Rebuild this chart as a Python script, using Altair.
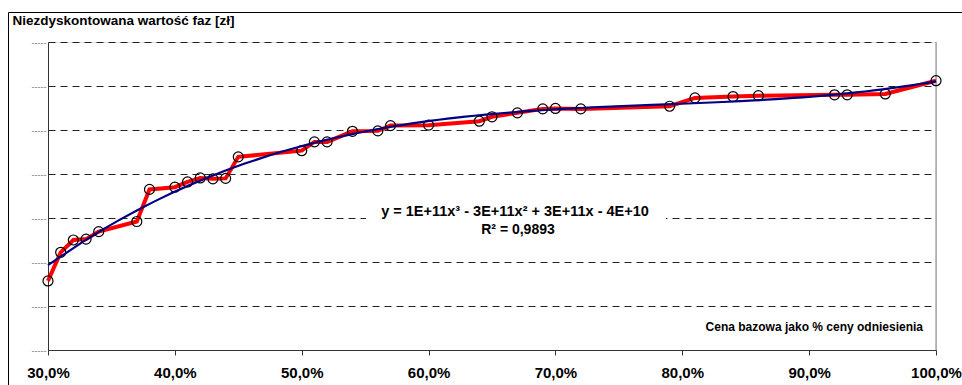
import altair as alt
import pandas as pd

# Cena bazowa jako % ceny odniesienia (x) and undiscounted value (y, grid units)
pct = [30, 31, 32, 33, 34, 37, 38, 40, 41, 42, 43, 44, 45, 50, 51, 52, 54, 56, 57, 60,
       64, 65, 67, 69, 70, 72, 79, 81, 84, 86, 92, 93, 96, 100]
val = [1.57, 2.22, 2.50, 2.52, 2.69, 2.92, 3.65, 3.70, 3.82, 3.91, 3.89, 3.90, 4.39, 4.53,
       4.73, 4.73, 4.97, 4.98, 5.10, 5.11, 5.20, 5.30, 5.39, 5.48, 5.49, 5.48, 5.54, 5.73,
       5.76, 5.78, 5.80, 5.80, 5.82, 6.12]
x_ticks = [0.3, 0.4, 0.5, 0.6, 0.7, 0.8, 0.9, 1.0]
y_ticks = [0, 1, 2, 3, 4, 5, 6, 7]

y_title = "Niezdyskontowana wartość faz [zł]"
x_note = "Cena bazowa jako % ceny odniesienia"
eq_line1 = "y = 1E+11x³ - 3E+11x² + 3E+11x - 4E+10"
eq_line2 = "R² = 0,9893"

df = pd.DataFrame({"x": [p / 100 for p in pct], "y": val})
one = pd.DataFrame({"k": [0]})

FONT = "Liberation Sans"
W, H = 888, 308

xenc = alt.X(
    "x:Q",
    scale=alt.Scale(domain=[0.3, 1.0], nice=False, zero=False),
    axis=alt.Axis(
        values=x_ticks,
        labelExpr="replace(format(datum.value, '.1%'), '.', ',')",
        labelFlush=False,
        grid=False,
        tickSize=5,
        tickColor="#333333",
        domainColor="#333333",
        labelFont=FONT,
        labelFontWeight="bold",
        labelFontSize=15,
        labelColor="black",
        labelPadding=10,
        title=None,
    ),
)
yenc = alt.Y(
    "y:Q",
    scale=alt.Scale(domain=[0, 7], nice=False, zero=False),
    axis=alt.Axis(
        values=y_ticks,
        labelExpr="'-----'",
        labelFlush=False,
        labelFontSize=9,
        labelColor="#777777",
        labelPadding=2,
        ticks=False,
        grid=True,
        gridDash=[7, 5],
        gridColor="#222222",
        gridWidth=1,
        domainColor="#333333",
        title=y_title,
        titleAngle=0,
        titleAlign="left",
        titleBaseline="middle",
        titleX=-36,
        titleY=-22,
        titleFont=FONT,
        titleFontWeight="bold",
        titleFontSize=13.5,
        titleColor="black",
    ),
)

base = alt.Chart(df).encode(x=xenc, y=yenc)

red = base.mark_line(color="#FF0000", strokeWidth=4)
pts = base.mark_point(shape="circle", filled=False, color="black", size=100,
                      strokeWidth=1.2, opacity=1)
trend = (
    alt.Chart(df)
    .transform_regression("x", "y", method="poly", order=3)
    .mark_line(color="#000080", strokeWidth=2.2)
    .encode(x=alt.X("x:Q"), y=alt.Y("y:Q"))
)

right_edge = alt.Chart(one).mark_rule(color="#808080", strokeWidth=1).encode(
    x=alt.value(W), y=alt.value(0), y2=alt.value(H)
)

eq_bg = alt.Chart(one).mark_rect(color="white").encode(
    x=alt.value(318), x2=alt.value(618), y=alt.value(160), y2=alt.value(196)
)
eq1 = alt.Chart(one).mark_text(
    font=FONT, fontWeight="bold", fontSize=14.5, color="black", align="center", baseline="middle"
).encode(x=alt.value(467), y=alt.value(170), text=alt.value(eq_line1))
eq2 = alt.Chart(one).mark_text(
    font=FONT, fontWeight="bold", fontSize=14, color="black", align="center", baseline="middle"
).encode(x=alt.value(470), y=alt.value(188), text=alt.value(eq_line2))

note = alt.Chart(one).mark_text(
    font=FONT, fontWeight="bold", fontSize=12, color="black", align="right", baseline="middle"
).encode(x=alt.value(875), y=alt.value(285), text=alt.value(x_note))

frame = alt.Chart(one).mark_rect(fillOpacity=0, stroke="black", strokeWidth=1).encode(
    x=alt.value(-39.5), x2=alt.value(1000), y=alt.value(-29.5), y2=alt.value(500)
)

chart = (
    alt.layer(right_edge, eq_bg, red, pts, trend, eq1, eq2, note, frame)
    .properties(
        width=W,
        height=H,
        autosize=alt.AutoSizeParams(type="none"),
        padding={"left": 48, "top": 42, "right": 26, "bottom": 35},
        background="white",
    )
    .configure_view(stroke="transparent")
    .configure(font=FONT)
)

chart.save("out.html", embed_options={"renderer": "svg", "actions": False})
